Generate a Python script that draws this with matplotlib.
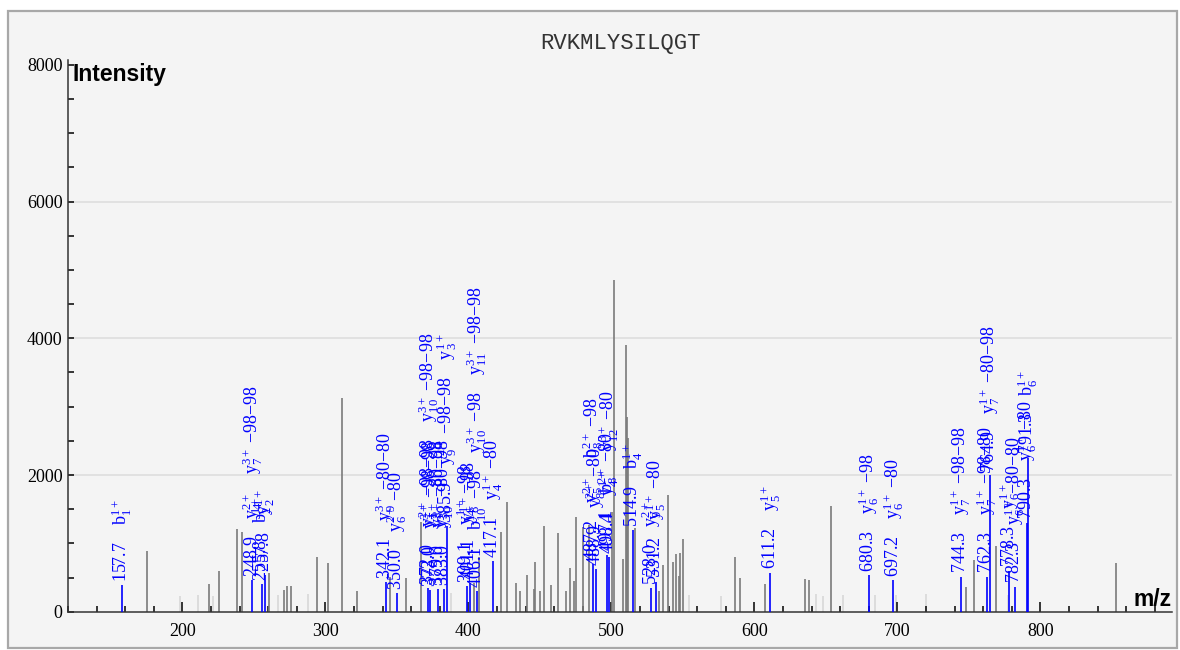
import matplotlib
matplotlib.use('Agg')
import matplotlib.pyplot as plt
from matplotlib.patches import Rectangle
from matplotlib.ticker import MultipleLocator

plt.rcParams['font.family'] = ['Liberation Serif', 'DejaVu Serif']
plt.rcParams['mathtext.fontset'] = 'custom'
plt.rcParams['mathtext.rm'] = 'Liberation Serif'
plt.rcParams['mathtext.it'] = 'Liberation Serif:italic'
plt.rcParams['mathtext.bf'] = 'Liberation Serif:bold'

peptide = 'RVKMLYSILQGT'

# unmatched peaks
gray_mz = [175.0, 218.9, 225.9, 238.0, 241.7, 260.8, 270.8, 272.9, 275.9, 294.0,
           301.8, 311.9, 321.9, 345.0, 356.2, 367.1, 403.7, 407.2, 423.1, 427.0,
           433.5, 435.9, 441.0, 445.9, 446.8, 449.9, 452.7, 458.0, 462.9, 468.0,
           470.8, 473.9, 475.0, 480.1, 484.1, 500.7, 501.8, 508.1, 510.5, 511.2,
           511.9, 516.3, 533.1, 536.1, 539.6, 543.1, 545.0, 547.2, 548.2, 550.1,
           586.2, 590.2, 607.2, 635.2, 638.1, 653.3, 748.2, 753.2, 769.2, 853.1]
gray_int = [888, 405, 595, 1210, 1166, 570, 317, 375, 375, 800,
            708, 3122, 308, 512, 498, 1317, 415, 800, 1170, 1600,
            425, 303, 537, 328, 723, 303, 1254, 390, 1156, 300,
            644, 454, 1381, 1244, 1270, 1463, 4854, 767, 3902, 2853,
            2537, 1220, 303, 683, 1707, 732, 844, 522, 863, 1070,
            796, 488, 405, 478, 464, 1547, 366, 756, 961, 708]

# faint peaks
light_mz = [198.3, 210.7, 221.7, 267.1, 288.0, 388.1, 554.2, 576.9, 642.8, 648.0,
            662.0, 684.3, 699.3, 720.3, 777.1]
light_int = [234, 240, 230, 240, 264, 270, 244, 234, 260, 234,
             240, 240, 244, 260, 244]

# matched peaks
ion_mz = [157.7, 248.9, 255.8, 257.8, 342.1, 350.0, 372.0, 373.4, 379.0, 383.0,
          385.0, 399.1, 401.1, 406.1, 417.1, 487.2, 488.9, 497.1, 498.4, 514.9,
          528.0, 531.2, 611.2, 680.3, 697.2, 744.3, 762.3, 764.9, 778.3, 782.3,
          790.3, 791.3]
ion_int = [390, 463, 405, 537, 430, 269, 342, 317, 328, 328,
           1250, 376, 415, 303, 742, 693, 620, 830, 800, 1195,
           342, 439, 571, 537, 464, 512, 512, 2000, 600, 366,
           1300, 2250]
ion_names = [
    ['b$_1^{1+}$'],
    ['y$_4^{2+}$', 'y$_7^{3+}$ \u221298\u221298'],
    ['b$_2^{1+}$'],
    ['y$_2^{1+}$'],
    ['y$_9^{3+}$ \u221280\u221280'],
    ['y$_6^{2+}$ \u221280'],
    ['y$_5^{2+}$ \u221298\u221298', 'y$_{10}^{3+}$ \u221298\u221298'],
    ['y$_7^{3+}$ \u221298\u221298'],
    ['y$_3^{1+}$ \u221280\u221298'],
    ['y$_{10}^{3+}$ \u221280\u221298'],
    ['y$_9^{2+}$ \u221298\u221298', 'y$_3^{1+}$'],
    ['y$_4^{1+}$ \u221298'],
    ['y$_8^{1+}$ \u221298'],
    ['b$_{10}^{1+}$ \u221298', 'y$_{10}^{3+}$ \u221298', 'y$_{11}^{3+}$ \u221298\u221298'],
    ['y$_4^{1+}$ \u221280'],
    ['y$_5^{2+}$', 'b$_8^{2+}$ \u221298'],
    ['y$_8^{2+}$ \u221280'],
    ['b$_8^{2+}$ \u221280'],
    ['y$_4^{1+}$', 'y$_{12}^{3+}$ \u221280'],
    ['b$_4^{1+}$'],
    ['y$_9^{2+}$'],
    ['y$_5^{1+}$ \u221280'],
    ['y$_5^{1+}$'],
    ['y$_6^{1+}$ \u221298'],
    ['y$_6^{1+}$ \u221280'],
    ['y$_7^{1+}$ \u221298\u221298'],
    ['y$_7^{1+}$ \u221298\u221280'],
    ['y$_7^{1+}$ \u221280\u221298'],
    ['y$_6^{1+}$'],
    ['y$_6^{1+}$ \u221280\u221280'],
    ['y$_6^{1+}$ \u221280'],
    ['b$_6^{1+}$'],
]
ion_labels = ['157.7', '248.9', '255.8', '257.8', '342.1', '350.0', '372.0', '373.0', '379.0', '383.0',
              '385.9', '399.1', '401.1', '406.1', '417.1', '487.2', '488.9', '497.1', '498.4', '514.9',
              '528.0', '531.2', '611.2', '680.3', '697.2', '744.3', '762.3', '764.9', '778.3', '782.3',
              '790.3', '791.3']

W, H = 1180, 650
fig = plt.figure(figsize=(W / 100, H / 100), dpi=100)
fig.patch.set_facecolor('white')
fig.patches.append(Rectangle((8 / W, 2 / H), 1169 / W, 637 / H, transform=fig.transFigure,
                             facecolor='#f4f4f4', edgecolor='#a8a8a8', lw=1.6, zorder=-10))

ax = fig.add_axes([68 / W, 38.3 / H, 1104 / W, 551.7 / H])
ax.set_facecolor('none')
ax.set_xlim(120, 892)
ax.set_ylim(0, 8072)

for y in [2000, 4000, 6000]:
    ax.axhline(y, color='#dcdcdc', lw=1.1, zorder=0)

ax.vlines(light_mz, 0, light_int, color='#d8d8d8', lw=1.2, zorder=1)
ax.vlines(gray_mz, 0, gray_int, color='#7a7a7a', lw=1.2, zorder=2)
ax.vlines(ion_mz, 0, ion_int, color='#0000ff', lw=1.2, zorder=3)

for mz, inten, lab, names in zip(ion_mz, ion_int, ion_labels, ion_names):
    txt = lab + '    ' + '    '.join(names)
    ax.annotate(txt, xy=(mz, inten), xytext=(0, 2.5), textcoords='offset points',
                rotation=90, rotation_mode='anchor', ha='left', va='center',
                color='#0000ff', fontsize=13, zorder=4)

ax.spines['top'].set_visible(False)
ax.spines['right'].set_visible(False)
ax.spines['left'].set_color('#333333')
ax.spines['bottom'].set_color('#333333')
ax.spines['left'].set_linewidth(1.1)
ax.spines['bottom'].set_linewidth(1.1)

ax.xaxis.set_major_locator(MultipleLocator(100))
ax.xaxis.set_minor_locator(MultipleLocator(20))
ax.yaxis.set_major_locator(MultipleLocator(2000))
ax.yaxis.set_minor_locator(MultipleLocator(500))
ax.tick_params(axis='x', which='major', direction='in', length=7, width=1.1, pad=8, labelsize=13)
ax.tick_params(axis='x', which='minor', direction='in', length=4.3, width=1.1)
ax.tick_params(axis='y', which='major', direction='in', length=4.5, width=1.1, pad=4, labelsize=13)
ax.tick_params(axis='y', which='minor', direction='in', length=4.3, width=1.1)

fig.text(620 / W, 1 - 44 / H, peptide, family='Liberation Mono', fontsize=16,
         ha='center', va='center', color='#333333')
fig.text(72 / W, 1 - 74 / H, 'Intensity', family='Liberation Sans', fontweight='bold',
         fontsize=16.5, ha='left', va='center')
fig.text(1172 / W, 1 - 606 / H, 'm/z', family='Liberation Sans', fontweight='bold',
         fontsize=16.5, ha='right', va='baseline')

plt.savefig('out.png', dpi=100)
